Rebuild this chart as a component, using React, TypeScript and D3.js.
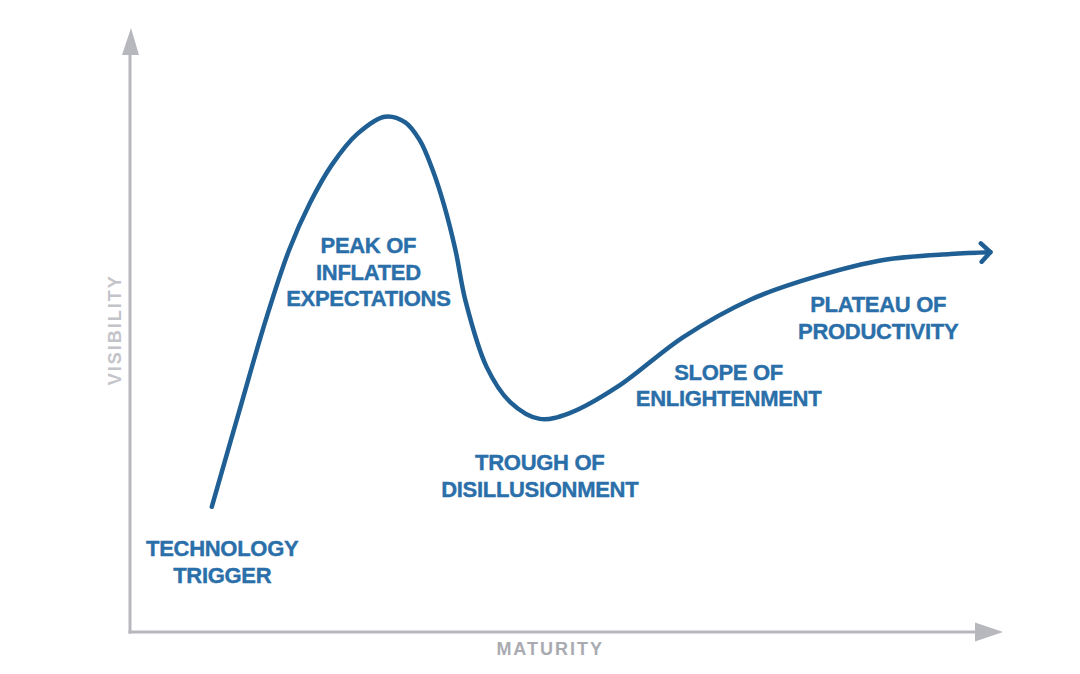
import React, { useRef, useEffect } from 'react';
import * as d3 from 'd3';

// Curva del "hype cycle": madurez (x) y visibilidad (y), en unidades 0-100
const maturity = [
  9.4, 12.6, 15.6, 18.3, 20.7, 23.2, 26.1, 29.3, 31.6, 33.3, 34.8, 36.1, 37.4,
  38.6, 41.0, 43.7, 47.1, 50.6, 56.0, 63.6, 71.3, 79.0, 86.6, 94.3, 98.9,
];
const visibility = [
  20.8, 36.9, 51.8, 63.5, 71.3, 77.6, 82.7, 85.6, 84.7, 81.7, 76.7, 70.9, 63.5,
  54.8, 44.0, 38.2, 35.4, 36.4, 40.7, 49.0, 55.2, 59.1, 61.8, 62.8, 63.1,
];

// Fases y el punto (madurez, visibilidad) donde se centra cada rótulo
const phaseLabels = [
  ['TECHNOLOGY', 'TRIGGER'],
  ['PEAK OF', 'INFLATED', 'EXPECTATIONS'],
  ['TROUGH OF', 'DISILLUSIONMENT'],
  ['SLOPE OF', 'ENLIGHTENMENT'],
  ['PLATEAU OF', 'PRODUCTIVITY'],
];
const phaseMaturity = [10.6, 27.4, 47.1, 68.8, 86.0];
const phaseVisibility = [11.7, 59.8, 26.0, 41.0, 52.2];

const xLabel = 'MATURITY';
const yLabel = 'VISIBILITY';

const App: React.FC = () => {
  const svgRef = useRef<SVGSVGElement>(null);
  const width = 1080;
  const height = 674;

  useEffect(() => {
    document.body.style.margin = '0';
    const svg = d3.select(svgRef.current);
    svg.selectAll('*').remove();

    const x = d3.scaleLinear().domain([0, 100]).range([130, 1000]);
    const y = d3.scaleLinear().domain([0, 100]).range([632, 30]);

    const axisColor = '#b7b8be';
    const curveColor = '#1f5f94';
    const textColor = '#2a6fa9';
    const font = '"Liberation Sans", Arial, Helvetica, sans-serif';

    // Ejes con flecha
    const x0 = x(0);
    const y0 = y(0);
    const xEnd = x(100) + 3;
    const yEnd = y(100) - 2;

    svg.append('line')
      .attr('x1', x0).attr('y1', y0 + 1.5)
      .attr('x2', x0).attr('y2', yEnd + 24)
      .attr('stroke', axisColor).attr('stroke-width', 3);
    svg.append('path')
      .attr('d', `M${x0 - 8},${yEnd + 27} L${x0 + 1},${yEnd} L${x0 + 9},${yEnd + 27} Z`)
      .attr('fill', axisColor);

    svg.append('line')
      .attr('x1', x0 - 1.5).attr('y1', y0)
      .attr('x2', xEnd - 25).attr('y2', y0)
      .attr('stroke', axisColor).attr('stroke-width', 3);
    svg.append('path')
      .attr('d', `M${xEnd - 28},${y0 - 9.5} L${xEnd},${y0} L${xEnd - 28},${y0 + 9.5} Z`)
      .attr('fill', axisColor);

    // Títulos de ejes
    svg.append('text')
      .attr('x', x(48.3))
      .attr('y', y0 + 23)
      .attr('text-anchor', 'middle')
      .attr('font-family', font)
      .attr('font-weight', 'bold')
      .attr('font-size', 18)
      .attr('letter-spacing', 2)
      .attr('fill', '#a9abb1')
      .text(xLabel);

    svg.append('text')
      .attr('transform', `translate(${x0 - 9},${y(50.2)}) rotate(-90)`)
      .attr('text-anchor', 'middle')
      .attr('font-family', font)
      .attr('font-weight', 'bold')
      .attr('font-size', 18)
      .attr('letter-spacing', 2)
      .attr('fill', '#c3c4ca')
      .text(yLabel);

    // Curva
    const pts: [number, number][] = maturity.map((m, i) => [m, visibility[i]]);
    const line = d3.line<[number, number]>()
      .x(d => x(d[0]))
      .y(d => y(d[1]))
      .curve(d3.curveCatmullRom.alpha(0.5));

    svg.append('path')
      .attr('d', line(pts) ?? '')
      .attr('fill', 'none')
      .attr('stroke', curveColor)
      .attr('stroke-width', 4.5)
      .attr('stroke-linecap', 'round');

    // Punta de flecha abierta al final de la curva
    const [ax, ay] = pts[pts.length - 1];
    const [bx, by] = pts[pts.length - 2];
    const tipX = x(ax);
    const tipY = y(ay);
    const ang = Math.atan2(tipY - y(by), tipX - x(bx));
    const len = 13;
    const spread = Math.PI / 4;
    svg.append('path')
      .attr('d', `M${tipX - len * Math.cos(ang - spread)},${tipY - len * Math.sin(ang - spread)}`
        + ` L${tipX},${tipY}`
        + ` L${tipX - len * Math.cos(ang + spread)},${tipY - len * Math.sin(ang + spread)}`)
      .attr('fill', 'none')
      .attr('stroke', curveColor)
      .attr('stroke-width', 4.5)
      .attr('stroke-linecap', 'round')
      .attr('stroke-linejoin', 'round');

    // Rótulos de fases
    const lineH = 26.5;
    phaseLabels.forEach((lines, i) => {
      const cx = x(phaseMaturity[i]);
      const cy = y(phaseVisibility[i]);
      const top = cy - ((lines.length - 1) * lineH) / 2;
      const t = svg.append('text')
        .attr('text-anchor', 'middle')
        .attr('font-family', font)
        .attr('font-weight', 'bold')
        .attr('font-size', 22)
        .attr('letter-spacing', -0.3)
        .attr('fill', textColor)
        .attr('stroke', textColor)
        .attr('stroke-width', 0.4);
      lines.forEach((s, j) => {
        t.append('tspan')
          .attr('x', cx)
          .attr('y', top + j * lineH + 7.8)
          .text(s);
      });
    });
  }, []);

  return <svg ref={svgRef} width={width} height={height} style={{ display: 'block', background: '#fff' }} />;
};

export default App;
